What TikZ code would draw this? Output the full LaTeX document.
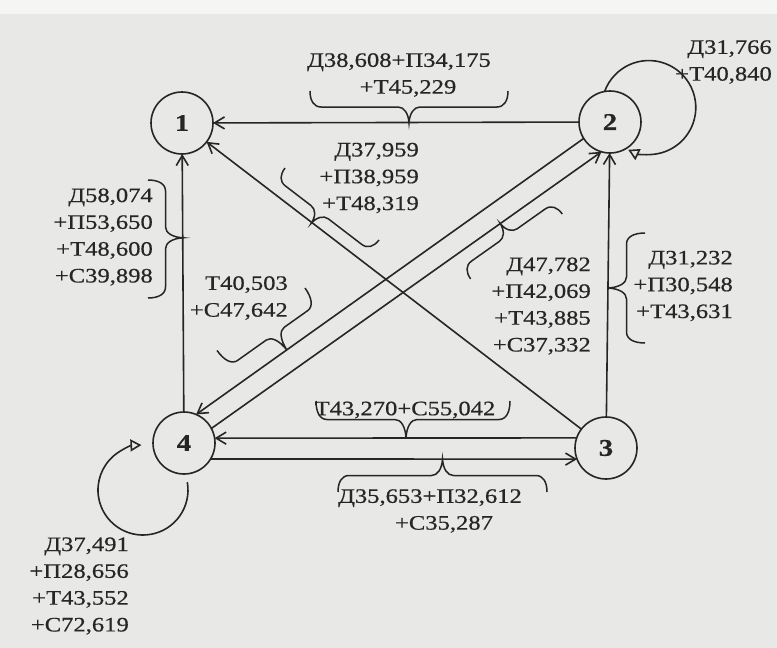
\documentclass[tikz,border=0pt]{standalone}
\usepackage{fontspec}
\setmainfont{Liberation Serif}[FakeStretch=1.2,FakeBold=0.6]
\usetikzlibrary{arrows.meta,decorations.pathreplacing}

\definecolor{paper}{HTML}{E8E8E6}
\definecolor{ink}{HTML}{262626}

% curly brace whose end and tip curls keep a fixed length (segment length),
% independent of its height (amplitude)
\pgfdeclaredecoration{bookbrace}{brace}{%
  \state{brace}[width=+\pgfdecoratedremainingdistance,next state=final]{%
    \pgfpathmoveto{\pgfpointorigin}%
    \pgfpathcurveto
      {\pgfqpoint{0pt}{.3\pgfdecorationsegmentamplitude}}%
      {\pgfqpoint{.35\pgfdecorationsegmentlength}{.5\pgfdecorationsegmentamplitude}}%
      {\pgfqpoint{\pgfdecorationsegmentlength}{.5\pgfdecorationsegmentamplitude}}%
    {%
      \pgftransformxshift{+\pgfdecorationsegmentaspect\pgfdecoratedremainingdistance}%
      \pgfpathlineto{\pgfqpoint{-\pgfdecorationsegmentlength}{.5\pgfdecorationsegmentamplitude}}%
      \pgfpathcurveto
        {\pgfqpoint{-.45\pgfdecorationsegmentlength}{.5\pgfdecorationsegmentamplitude}}%
        {\pgfqpoint{-.05\pgfdecorationsegmentlength}{.7\pgfdecorationsegmentamplitude}}%
        {\pgfqpoint{0pt}{\pgfdecorationsegmentamplitude}}%
      \pgfpathcurveto
        {\pgfqpoint{.05\pgfdecorationsegmentlength}{.7\pgfdecorationsegmentamplitude}}%
        {\pgfqpoint{.45\pgfdecorationsegmentlength}{.5\pgfdecorationsegmentamplitude}}%
        {\pgfqpoint{\pgfdecorationsegmentlength}{.5\pgfdecorationsegmentamplitude}}%
    }%
    {%
      \pgftransformxshift{+\pgfdecoratedremainingdistance}%
      \pgfpathlineto{\pgfqpoint{-\pgfdecorationsegmentlength}{.5\pgfdecorationsegmentamplitude}}%
      \pgfpathcurveto
        {\pgfqpoint{-.35\pgfdecorationsegmentlength}{.5\pgfdecorationsegmentamplitude}}%
        {\pgfqpoint{0pt}{.3\pgfdecorationsegmentamplitude}}%
        {\pgfpointorigin}%
    }%
  }%
  \state{final}{}%
}

\tikzset{
  vertex/.style={circle, draw=ink, line width=1.6pt, minimum size=62pt,
    inner sep=0pt, outer sep=0pt, text=ink,
    font=\fontsize{24}{24}\selectfont\bfseries},
  edge/.style={draw=ink, line width=1.6pt,
    -{Straight Barb[length=10pt,width=12pt]}},
  loopline/.style={draw=ink, line width=1.6pt,
    -{Triangle[open,length=11pt,width=12pt]}},
  bracedraw/.style 2 args={draw=ink, line width=1.5pt, decorate,
    decoration={bookbrace, amplitude=#1, aspect=#2, segment length=11pt}},
  lbl/.style={text=ink, inner sep=0pt, font=\fontsize{20.5}{26.8}\selectfont},
}

\begin{document}
\begin{tikzpicture}[x=1pt,y=-1pt]
  \useasboundingbox (0,0) rectangle (777,648);
  \fill[paper] (0,0) rectangle (777,648);
  \fill[white!55!paper] (0,0) rectangle (777,14);

  % vertices
  \node[vertex] (n1) at (182,123) {1};
  \node[vertex] (n2) at (610,122) {2};
  \node[vertex] (n3) at (606,448) {3};
  \node[vertex] (n4) at (184,443) {4};

  % connectors
  \draw[edge] (n2) -- (n1);
  \draw[edge] (n4) -- (n1);
  \draw[edge] (n3) -- (n1);
  \draw[edge] (n3) -- (n2);
  \draw[edge] (n2.212) -- (n4.67);
  \draw[edge] (n4.28) -- (n2.254);
  \draw[edge] (n3.161) -- (n4.9);
  \draw[edge] (n4.-31) -- (n3.201);

  % self loops
  \draw[loopline] (n2.100) arc[start angle=200, end angle=476, radius=47];
  \coordinate (l4s) at (187.3,482.2);
  \draw[loopline] (l4s) arc[start angle=-10, end angle=268, radius=45];

  % braces
  \coordinate (b1s) at (508,91);   \coordinate (b1e) at (310,91);
  \coordinate (b2s) at (148,180);  \coordinate (b2e) at (148,298);
  \coordinate (b3s) at (379,240);  \coordinate (b3e) at (285,168);
  \coordinate (b4s) at (305,288);  \coordinate (b4e) at (217,350.5);
  \coordinate (b5s) at (470.6,278.9); \coordinate (b5e) at (562.3,214);
  \coordinate (b6s) at (645,343);  \coordinate (b6e) at (645,233);
  \coordinate (b7s) at (510,401);  \coordinate (b7e) at (316,401);
  \coordinate (b8s) at (338,492);  \coordinate (b8e) at (547,492);
  \draw[bracedraw={32pt}{0.5}]  (b1s) -- (b1e);
  \draw[bracedraw={35pt}{0.49}] (b2s) -- (b2e);
  \draw[bracedraw={28pt}{0.54}] (b3s) -- (b3e);
  \draw[bracedraw={40pt}{0.47}] (b4s) -- (b4e);
  \draw[bracedraw={28pt}{0.5}]  (b5s) -- (b5e);
  \draw[bracedraw={37pt}{0.5}]  (b6s) -- (b6e);
  \draw[bracedraw={37pt}{0.536}] (b7s) -- (b7e);
  \draw[bracedraw={33pt}{0.5}]  (b8s) -- (b8e);

  % flow labels
  \node[lbl, align=center] (t21) at (399,75) {Д38,608+П34,175\\\hspace*{18pt}+Т45,229};
  \node[lbl, align=right, anchor=east] (t41) at (153,237) {Д58,074\\+П53,650\\+Т48,600\\+С39,898};
  \node[lbl, align=right, anchor=east] (t31) at (419,178) {Д37,959\\+П38,959\\+Т48,319};
  \node[lbl, align=right, anchor=east] (t24) at (288,298) {Т40,503\\+С47,642};
  \node[lbl, align=right, anchor=east] (t42) at (591,306) {Д47,782\\+П42,069\\+Т43,885\\+С37,332};
  \node[lbl, align=right, anchor=east] (t32) at (733,286) {Д31,232\\+П30,548\\+Т43,631};
  \node[lbl] (t34) at (405,410) {Т43,270+С55,042};
  \node[lbl, align=center] (t43) at (430,511) {Д35,653+П32,612\\\hspace*{28pt}+С35,287};
  \node[lbl, align=right, anchor=east] (t22) at (772,62) {Д31,766\\+Т40,840};
  \node[lbl, align=right, anchor=east] (t44) at (129,586) {Д37,491\\+П28,656\\+Т43,552\\+С72,619};
\end{tikzpicture}
\end{document}
